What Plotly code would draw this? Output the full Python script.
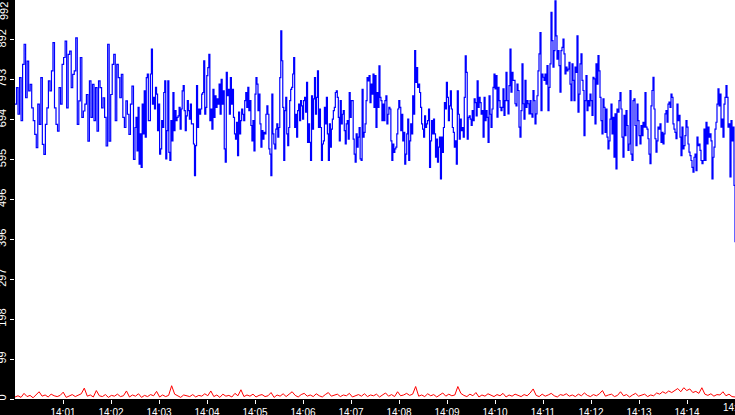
import numpy as np
import pandas as pd
import plotly.graph_objects as go

seg_start = [0, 150, 300, 450, 600, 731.25]
seg_end = [150, 300, 450, 600, 731.25, 900]

blue_1 = [733, 774, 708, 799, 692, 832, 882, 749, 840, 766, 782, 724, 692, 658, 625, 733,
          683, 799, 633, 608, 683, 724, 791, 766, 816, 886, 724, 683, 666, 774, 733, 832,
          849, 890, 724, 857, 865, 774, 807, 816, 898, 683, 741, 849, 700, 716, 733, 757,
          641, 791, 700, 782, 692, 774, 666, 791, 774, 724, 749, 700, 629, 882, 641, 757,
          832, 857, 692, 832, 799, 749, 807, 700, 675, 741, 708, 658, 733, 778, 596]
blue_2 = [675, 700, 617, 725, 584, 659, 576, 733, 659, 766, 651, 799, 808, 692, 692, 808,
          870, 733, 750, 721, 775, 758, 667, 733, 609, 622, 692, 675, 762, 791, 597, 667,
          791, 613, 593, 692, 642, 762, 667, 717, 692, 700, 704, 725, 671, 721, 766, 779,
          717, 667, 704, 742, 717, 696, 733, 684, 684, 634, 555, 630, 779, 675, 721, 708,
          721, 758, 762, 841, 708, 725, 804, 824, 857, 692, 721, 671, 770, 700, 754, 725,
          746, 733, 783, 708, 795, 733, 766, 622, 589, 812, 754, 770, 708, 799, 733, 770,
          700, 659, 646, 688, 605, 713, 659, 692, 721, 708, 692, 742, 762, 725, 775, 717,
          742, 680, 642, 692, 617]
blue_3 = [758, 799, 783, 717, 758, 684, 626, 667, 646, 663, 659, 708, 729, 708, 622, 609,
          555, 758, 659, 634, 622, 671, 684, 651, 675, 799, 915, 841, 725, 593, 717, 750,
          659, 630, 675, 742, 770, 775, 808, 849, 675, 708, 651, 717, 733, 692, 742, 729,
          696, 742, 750, 713, 787, 638, 684, 638, 593, 754, 671, 746, 799, 708, 750, 816,
          675, 721, 675, 593, 634, 642, 725, 684, 750, 659, 593, 684, 626, 671, 696, 717,
          725, 762, 766, 750, 700, 642, 742, 684, 708, 717, 667, 634, 684, 692, 646, 762,
          700, 742, 742, 646, 609, 589, 659, 626, 651, 675, 597, 593, 770, 651, 663, 684,
          742, 799, 791, 804, 737, 783, 758, 808, 725]
blue_4 = [804, 675, 762, 725, 828, 750, 742, 692, 733, 692, 742, 754, 684, 708, 725, 721,
          642, 593, 634, 613, 622, 626, 659, 721, 742, 725, 667, 708, 642, 663, 584, 609,
          659, 696, 593, 642, 684, 659, 754, 708, 866, 787, 824, 775, 783, 762, 725, 684,
          671, 651, 704, 675, 684, 692, 721, 576, 642, 692, 659, 696, 659, 601, 646, 589,
          626, 651, 547, 651, 613, 675, 737, 721, 787, 750, 692, 729, 766, 721, 675, 663,
          626, 642, 584, 766, 708, 646, 696, 667, 675, 651, 750, 853, 812, 646, 700, 704,
          696, 680, 717, 692, 746, 737, 704, 791, 725, 750, 737, 708, 717, 651, 750, 692,
          717, 700, 638, 754, 708, 675, 721, 775, 808]
blue_5 = [771, 804, 701, 775, 742, 725, 717, 725, 771, 705, 742, 812, 742, 709, 779, 870,
          763, 812, 792, 792, 734, 729, 783, 767, 676, 651, 717, 833, 734, 696, 792, 725,
          742, 734, 709, 742, 709, 701, 767, 742, 684, 709, 754, 816, 858, 911, 717, 808,
          800, 792, 808, 783, 829, 717, 775, 833, 961, 891, 825, 866, 990, 903, 845, 866,
          829, 763, 866, 874, 895, 858, 808, 825, 816, 820, 837, 783, 742, 833, 792, 742,
          825, 812, 903, 713, 758, 833, 858, 792, 767, 655, 742, 804, 717, 742, 729, 758,
          742, 705, 800, 796, 684, 833, 783, 854, 816]
blue_6 = [750, 692, 659, 746, 725, 663, 721, 651, 622, 642, 696, 733, 659, 700, 601, 709,
          572, 721, 713, 742, 762, 721, 651, 601, 705, 655, 717, 680, 618, 634, 767, 609,
          593, 742, 746, 680, 630, 733, 692, 655, 634, 680, 655, 688, 676, 762, 676, 671,
          647, 609, 585, 729, 767, 800, 721, 647, 614, 642, 676, 671, 684, 638, 663, 634,
          659, 709, 717, 688, 733, 738, 725, 758, 750, 684, 671, 663, 647, 733, 692, 705,
          651, 605, 676, 622, 630, 655, 692, 676, 634, 614, 605, 593, 576, 564, 601, 609,
          568, 651, 630, 634, 618, 593, 585, 593, 671, 593, 688, 634, 676, 651, 659, 642,
          547, 601, 626, 671, 688, 733, 771, 729, 758, 676, 696, 651, 733, 750, 779, 750,
          676, 684, 552, 692, 642, 676, 531, 390]

# red trace, evenly spaced over the 15 minutes
red = [5, 8, 4, 14, 6, 9, 3, 11, 18, 7,
       10, 5, 12, 8, 6, 9, 17, 4, 8, 11,
       6, 9, 13, 27, 7, 10, 5, 21, 8, 6,
       11, 4, 9, 7, 12, 6, 8, 20, 5, 10,
       7, 13, 4, 9, 6, 11, 8, 19, 5, 10,
       6, 9, 33, 12, 7, 4, 10, 8, 6, 11,
       5, 9, 7, 13, 8, 20, 6, 10, 4, 12,
       7, 9, 5, 14, 8, 23, 6, 10, 7, 12,
       5, 9, 11, 6, 8, 16, 4, 10, 7, 13,
       6, 12, 18, 9, 5, 11, 14, 7, 10, 6,
       13, 8, 5, 11, 16, 7, 9, 12, 6, 10,
       8, 14, 5, 9, 11, 7, 13, 6, 10, 8,
       12, 5, 9, 15, 7, 11, 6, 18, 8, 10,
       14, 9, 12, 31, 7, 10, 6, 13, 8, 11,
       5, 9, 15, 7, 12, 8, 10, 31, 14, 9,
       6, 12, 8, 16, 5, 10, 7, 13, 9, 6,
       11, 8, 14, 5, 10, 7, 12, 9, 6, 11,
       8, 15, 25, 9, 6, 12, 7, 10, 14, 8,
       5, 11, 9, 13, 7, 10, 6, 12, 8, 15,
       9, 6, 11, 8, 13, 21, 7, 10, 12, 6,
       9, 18, 8, 11, 5, 10, 14, 7, 9, 12,
       6, 10, 8, 15, 12, 18, 14, 20, 16, 22,
       26, 18, 28, 21, 25, 16, 19, 14, 28, 12,
       9, 13, 7, 11, 10, 18, 8, 12, 6, 5]

y_ticks = [0, 99.2, 198.4, 297.6, 396.8, 496, 595.2, 694.4, 793.6, 892.8, 992]
y_labels = ["0", "99", "198", "297", "396", "496", "595", "694", "793", "892", "992"]
x_labels = ["14:01", "14:02", "14:03", "14:04", "14:05", "14:06", "14:07", "14:08",
            "14:09", "14:10", "14:11", "14:12", "14:13", "14:14", "14:15"]

base = pd.Timestamp("2024-01-01 14:00:00")

blue_t = []
blue_v = []
for s, e, seg in zip(seg_start, seg_end, [blue_1, blue_2, blue_3, blue_4, blue_5, blue_6]):
    secs = np.linspace(s, e, len(seg), endpoint=(e == 900))
    blue_t += list(base + pd.to_timedelta(secs, unit="s"))
    blue_v += seg

red_t = base + pd.to_timedelta(np.linspace(0, 900, len(red)), unit="s")
x_ticks = [pd.Timestamp("2024-01-01 " + t) for t in x_labels]

fig = go.Figure()
fig.add_trace(go.Scatter(x=blue_t, y=blue_v, mode="lines", line_shape="hv",
                         line=dict(color="#0000ff", width=1.2)))
fig.add_trace(go.Scatter(x=red_t, y=red, mode="lines",
                         line=dict(color="#ff0000", width=1)))

fig.update_layout(
    width=735, height=415,
    margin=dict(l=15, r=0, t=0, b=16, pad=0),
    paper_bgcolor="black",
    plot_bgcolor="white",
    showlegend=False,
    font=dict(family="Liberation Sans", size=10, color="white"),
)
fig.update_xaxes(
    type="date",
    range=[base, base + pd.Timedelta(minutes=15)],
    tickvals=x_ticks, ticktext=x_labels,
    ticks="outside", ticklen=4, tickcolor="white",
    ticklabelstandoff=0,
    showgrid=False, zeroline=False, showline=False, automargin=False,
)
fig.update_yaxes(
    range=[0, 992],
    tickvals=y_ticks[:-1], ticktext=y_labels[:-1], tickangle=-90,
    tickfont=dict(size=11),
    ticks="outside", ticklen=4, tickcolor="white",
    ticklabelstandoff=0,
    showgrid=False, zeroline=False, showline=False, automargin=False,
)
# top label would be centred on the plot edge, so pin it just under the top
fig.add_annotation(text=y_labels[-1], xref="paper", x=0, xanchor="right", xshift=-3,
                   yref="y", y=y_ticks[-1], yanchor="top", textangle=-90,
                   showarrow=False, font=dict(color="white", size=10 + 1))
# last minute label sits on the right edge and is only half visible
fig.add_annotation(text=x_labels[-1], xref="x", x=x_ticks[-1], xanchor="center",
                   yref="paper", y=-0.022, yanchor="middle", borderpad=0,
                   showarrow=False, font=dict(color="white", size=10))

fig.write_html("out.html", config={"displayModeBar": False},
               post_script="document.body.style.margin='0';")
